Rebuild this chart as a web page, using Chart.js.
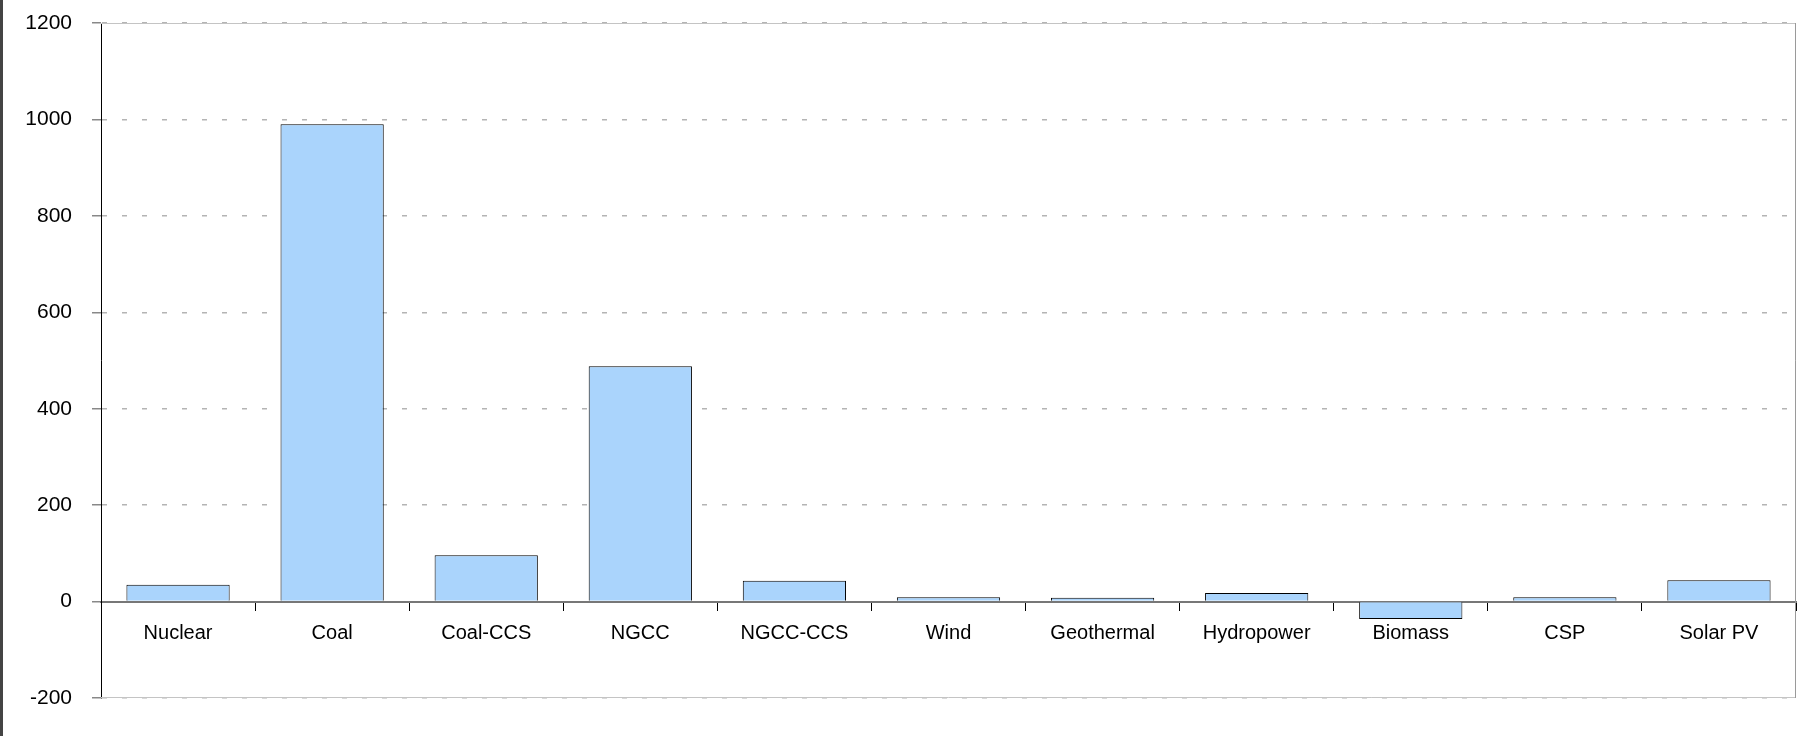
<!DOCTYPE html>
<html>
<head>
<meta charset="utf-8">
<script src="https://cdn.jsdelivr.net/npm/chart.js@4/dist/chart.umd.min.js"></script>
<style>
  html, body { margin: 0; padding: 0; background: #fff; }
  #wrap { width: 1808px; height: 736px; position: relative; }
</style>
</head>
<body>
<div id="wrap"><canvas id="myChart"></canvas></div>
<script>
// Data
const categories = ['Nuclear', 'Coal', 'Coal-CCS', 'NGCC', 'NGCC-CCS', 'Wind', 'Geothermal', 'Hydropower', 'Biomass', 'CSP', 'Solar PV'];
const values = [35, 990, 96, 488, 43, 9, 8, 18, -36, 9, 44];
const yTicks = [-200, 0, 200, 400, 600, 800, 1000, 1200];

// white background, frame of the plot area and the left border line
const framePlugin = {
    id: 'frame',
    beforeDraw(chart) {
        const ctx = chart.ctx;
        ctx.save();
        ctx.fillStyle = '#fff';
        ctx.fillRect(0, 0, chart.width, chart.height);
        ctx.fillStyle = '#444';
        ctx.fillRect(0, 0, 3, chart.height);
        ctx.restore();
    },
    beforeDatasetsDraw(chart) {
        const a = chart.chartArea;
        const ctx = chart.ctx;
        ctx.save();
        ctx.strokeStyle = '#c4c4c4';
        ctx.lineWidth = 1;
        ctx.beginPath();
        ctx.moveTo(a.left, a.top + 0.5);
        ctx.lineTo(a.right - 0.5, a.top + 0.5);
        ctx.lineTo(a.right - 0.5, a.bottom - 0.5);
        ctx.lineTo(a.left, a.bottom - 0.5);
        ctx.stroke();
        ctx.strokeStyle = '#9a9a9a';
        ctx.beginPath();
        ctx.moveTo(a.right - 0.5, a.top);
        ctx.lineTo(a.right - 0.5, a.bottom);
        ctx.stroke();
        ctx.restore();
    }
};

const ctx = document.getElementById('myChart').getContext('2d');
new Chart(ctx, {
    type: 'bar',
    data: {
        labels: categories,
        datasets: [{
            data: values,
            backgroundColor: '#aad4fc',
            borderColor: '#000',
            borderWidth: 1,
            barPercentage: 0.67,
            categoryPercentage: 1
        }]
    },
    options: {
        responsive: true,
        maintainAspectRatio: false,
        animation: false,
        layout: { padding: { top: 23, right: 12, bottom: 38, left: 0 } },
        plugins: {
            legend: { display: false },
            tooltip: { enabled: false }
        },
        scales: {
            x: {
                position: { y: 0 },
                grid: {
                    display: true,
                    offset: true,
                    drawOnChartArea: false,
                    drawTicks: true,
                    tickLength: 8,
                    tickColor: '#000'
                },
                border: { display: true, color: '#777', width: 2 },
                ticks: {
                    color: '#000',
                    font: { family: 'Arial, "Liberation Sans", sans-serif', size: 20 },
                    padding: 12,
                    autoSkip: false,
                    maxRotation: 0
                }
            },
            y: {
                min: -200,
                max: 1200,
                afterBuildTicks: scale => { scale.ticks = yTicks.map(v => ({ value: v })); },
                afterFit: scale => {
                    scale.width = 101;
                    scale.paddingTop = 0;
                    scale.paddingBottom = 0;
                },
                grid: {
                    color: '#b4b4b4',
                    lineWidth: 1.5,
                    tickLength: 9,
                    tickColor: '#888',
                    tickBorderDash: []
                },
                border: { display: true, color: '#000', width: 1, dash: [5, 15] },
                ticks: {
                    color: '#000',
                    font: { family: 'Arial, "Liberation Sans", sans-serif', size: 21 },
                    padding: 20,
                    callback: v => String(v)
                }
            }
        }
    },
    plugins: [framePlugin]
});
</script>
</body>
</html>
